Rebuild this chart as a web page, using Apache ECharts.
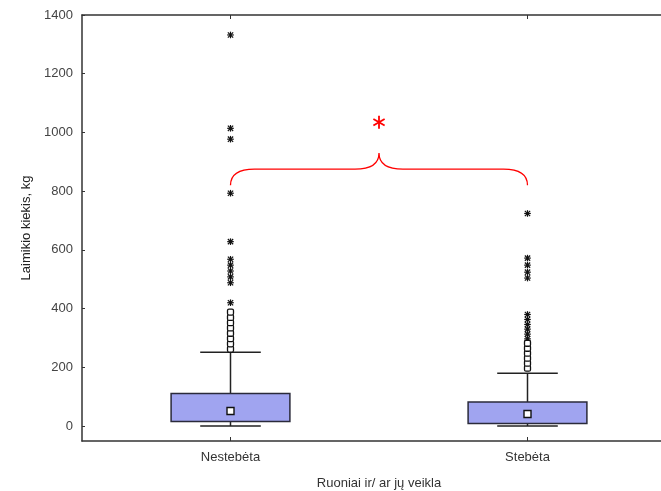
<!DOCTYPE html>
<html>
<head>
<meta charset="utf-8">
<script src="https://cdn.jsdelivr.net/npm/echarts@6/dist/echarts.min.js"></script>
<style>
html,body{margin:0;padding:0;background:#fff;}
#chart{width:661px;height:491px;}
</style>
</head>
<body>
<div id="chart"></div>
<script>
// ---- data ----
const categories = ['Nestebėta', 'Stebėta'];
// [min, Q1, median, Q3, max (non-outlier)]
const boxNestebeta = [0, 15, 51, 111, 251];
const boxStebeta = [0, 9, 41, 82, 180];
const outliersNestebeta = [262, 280, 298, 316, 334, 352, 370, 388];
const extremesNestebeta = [420, 488, 508, 528, 548, 568, 628, 793, 977, 1014, 1332];
const outliersStebeta = [197, 214, 231, 248, 265, 282];
const extremesStebeta = [297, 313, 330, 346, 363, 380, 504, 524, 548, 572, 724];
const yTicks = [0, 200, 400, 600, 800, 1000, 1200, 1400];
const yMin = -51, yMax = 1400;
// significance bracket levels (value units): end, arm, peak, star
const bracketLevels = [820, 875, 930, 1035];

const chart = echarts.init(document.getElementById('chart'));

const boxData = [[0].concat(boxNestebeta), [1].concat(boxStebeta)];
const outlierData = outliersNestebeta.map(v => [0, v]).concat(outliersStebeta.map(v => [1, v]));
const extremeData = extremesNestebeta.map(v => [0, v]).concat(extremesStebeta.map(v => [1, v]));

const FONT = '"Liberation Sans", Arial, sans-serif';

function renderBox(params, api) {
  const x = api.value(0);
  const pMin = api.coord([x, api.value(1)]);
  const pQ1 = api.coord([x, api.value(2)]);
  const pMed = api.coord([x, api.value(3)]);
  const pQ3 = api.coord([x, api.value(4)]);
  const pMax = api.coord([x, api.value(5)]);
  const band = api.size([1, 0])[0];
  const bw = band * 0.40;
  const cw = bw * 0.51;
  const cx = pMed[0];
  const ls = {stroke: '#222', lineWidth: 1.5};
  return {
    type: 'group',
    children: [
      {type: 'line', shape: {x1: cx, y1: pQ3[1], x2: cx, y2: pMax[1]}, style: ls},
      {type: 'line', shape: {x1: cx - cw / 2, y1: pMax[1], x2: cx + cw / 2, y2: pMax[1]}, style: ls},
      {type: 'line', shape: {x1: cx, y1: pQ1[1], x2: cx, y2: pMin[1]}, style: ls},
      {type: 'line', shape: {x1: cx - cw / 2, y1: pMin[1], x2: cx + cw / 2, y2: pMin[1]}, style: ls},
      {type: 'rect', shape: {x: cx - bw / 2, y: pQ3[1], width: bw, height: pQ1[1] - pQ3[1]},
        style: {fill: '#a0a4f0', stroke: '#2a2a3a', lineWidth: 1.5}},
      {type: 'rect', shape: {x: cx - 3.5, y: pMed[1] - 3.5, width: 7, height: 7},
        style: {fill: '#fff', stroke: '#111', lineWidth: 1.4}}
    ]
  };
}

function renderExtreme(params, api) {
  const p = api.coord([api.value(0), api.value(1)]);
  const r = 3.3;
  const s = {stroke: '#111', lineWidth: 1.2};
  return {
    type: 'group',
    children: [
      {type: 'line', shape: {x1: p[0] - r, y1: p[1], x2: p[0] + r, y2: p[1]}, style: s},
      {type: 'line', shape: {x1: p[0], y1: p[1] - r, x2: p[0], y2: p[1] + r}, style: s},
      {type: 'line', shape: {x1: p[0] - r * 0.8, y1: p[1] - r * 0.8, x2: p[0] + r * 0.8, y2: p[1] + r * 0.8}, style: s},
      {type: 'line', shape: {x1: p[0] - r * 0.8, y1: p[1] + r * 0.8, x2: p[0] + r * 0.8, y2: p[1] - r * 0.8}, style: s}
    ]
  };
}

function renderBracket(params, api) {
  const a = api.coord([0, bracketLevels[0]]);
  const b = api.coord([1, bracketLevels[0]]);
  const yEnd = a[1];
  const yArm = api.coord([0, bracketLevels[1]])[1];
  const yPeak = api.coord([0, bracketLevels[2]])[1];
  const yStar = api.coord([0, bracketLevels[3]])[1];
  const x1 = a[0], x2 = b[0], xm = (x1 + x2) / 2;
  const r = 24;
  const path = 'M' + x1 + ' ' + yEnd + ' Q' + x1 + ' ' + yArm + ' ' + (x1 + r) + ' ' + yArm +
    ' L' + (xm - r) + ' ' + yArm + ' Q' + xm + ' ' + yArm + ' ' + xm + ' ' + yPeak +
    ' Q' + xm + ' ' + yArm + ' ' + (xm + r) + ' ' + yArm +
    ' L' + (x2 - r) + ' ' + yArm + ' Q' + x2 + ' ' + yArm + ' ' + x2 + ' ' + yEnd;
  const sr = 6.5;
  const ss = {stroke: '#ff0000', lineWidth: 1.8};
  const c = Math.cos(Math.PI / 6) * sr, s = Math.sin(Math.PI / 6) * sr;
  return {
    type: 'group',
    children: [
      {type: 'path', shape: {pathData: path}, style: {fill: null, stroke: '#ff0000', lineWidth: 1.3}},
      {type: 'line', shape: {x1: xm, y1: yStar - sr, x2: xm, y2: yStar + sr}, style: ss},
      {type: 'line', shape: {x1: xm - c, y1: yStar - s, x2: xm + c, y2: yStar + s}, style: ss},
      {type: 'line', shape: {x1: xm - c, y1: yStar + s, x2: xm + c, y2: yStar - s}, style: ss}
    ]
  };
}

chart.setOption({
  animation: false,
  backgroundColor: '#fff',
  grid: {left: 82, top: 15, width: 594, height: 426, outerBoundsMode: 'none', containLabel: false},
  xAxis: [{
    type: 'category',
    data: categories,
    position: 'bottom',
    name: 'Ruoniai ir/ ar jų veikla',
    nameLocation: 'middle',
    nameGap: 36,
    nameTextStyle: {color: '#333', fontSize: 13, fontFamily: FONT},
    axisLine: {show: true, onZero: false, lineStyle: {color: '#333', width: 1.5}},
    axisTick: {show: true, inside: true, alignWithLabel: true, length: 4, lineStyle: {color: '#333'}},
    axisLabel: {color: '#333', fontSize: 13, fontFamily: FONT, margin: 10},
    splitLine: {show: false}
  }, {
    type: 'category',
    data: categories,
    position: 'top',
    axisLine: {show: true, onZero: false, lineStyle: {color: '#333', width: 1.5}},
    axisTick: {show: true, inside: true, alignWithLabel: true, length: 4, lineStyle: {color: '#333'}},
    axisLabel: {show: false},
    splitLine: {show: false}
  }],
  yAxis: {
    type: 'value',
    min: yMin,
    max: yMax,
    name: 'Laimikio kiekis, kg',
    nameLocation: 'middle',
    nameGap: 43,
    nameTextStyle: {color: '#222', fontSize: 13, fontFamily: FONT},
    axisLine: {show: true, onZero: false, lineStyle: {color: '#333', width: 1.5}},
    axisTick: {show: true, inside: true, length: 3, customValues: yTicks, lineStyle: {color: '#333'}},
    axisLabel: {color: '#444', fontSize: 13, fontFamily: FONT, margin: 9, customValues: yTicks,
      formatter: v => String(v)},
    splitLine: {show: false}
  },
  series: [
    {type: 'custom', renderItem: renderBox, data: boxData, encode: {x: 0, y: [1, 2, 3, 4, 5]}, z: 3},
    {type: 'scatter', data: outlierData, symbol: 'roundRect', symbolSize: 6,
      itemStyle: {color: '#fff', borderColor: '#111', borderWidth: 1.3, opacity: 1}, z: 4},
    {type: 'custom', renderItem: renderExtreme, data: extremeData, encode: {x: 0, y: 1}, z: 4},
    {type: 'custom', renderItem: renderBracket, data: [[0, bracketLevels[0]]], encode: {x: 0, y: 1}, z: 5, clip: false}
  ]
});
</script>
</body>
</html>
